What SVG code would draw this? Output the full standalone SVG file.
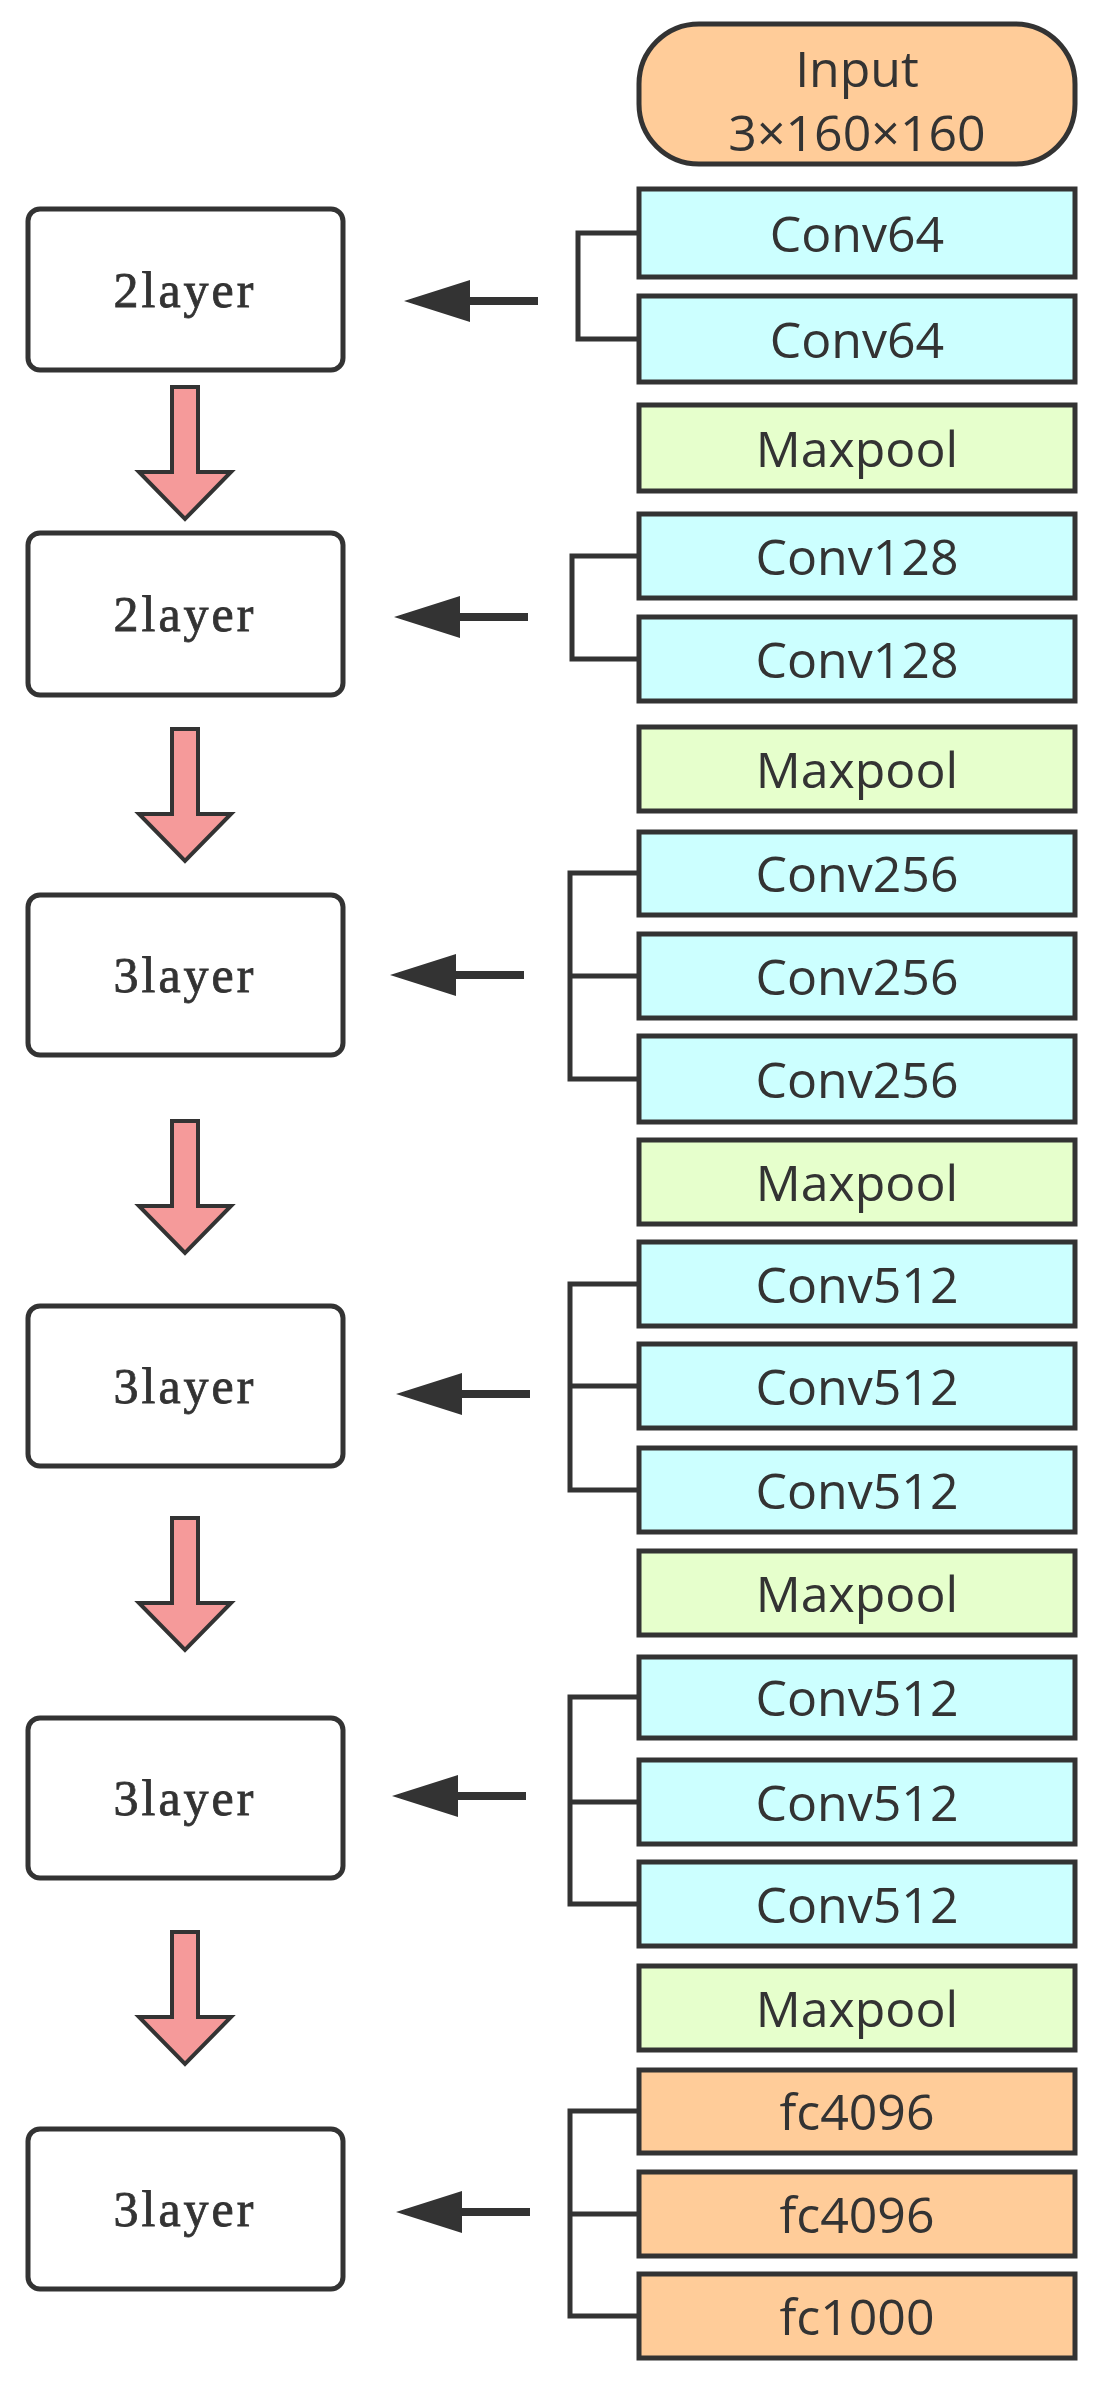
<svg xmlns="http://www.w3.org/2000/svg" width="1108" height="2395" viewBox="0 0 1108 2395">
<style>
.b{stroke:#333;stroke-width:5}
.c{fill:#ccffff}.m{fill:#e6ffcc}.o{fill:#ffcc99}
.t{font-family:"Open Sans","Liberation Sans",sans-serif;font-size:50px;fill:#333;text-anchor:middle;dominant-baseline:central}
.l{fill:#fff;stroke:#333;stroke-width:5}
.lt{font-family:"Liberation Serif",serif;font-size:50px;fill:#333;stroke:#333;stroke-width:0.8;letter-spacing:3px;text-anchor:middle;dominant-baseline:central}
.br{fill:none;stroke:#333;stroke-width:5}
.pa{fill:#f59a9a;stroke:#333;stroke-width:4}
.ba{fill:#333}
</style>
<rect width="1108" height="2395" fill="#fff"/>
<g id="input"><rect x="639" y="24" width="436" height="140" rx="60" class="b o"/><text x="857" y="68" class="t">Input</text><text x="857" y="132" class="t">3×160×160</text></g>
<g id="r0"><rect x="639" y="189" width="436" height="88" class="b c"/><text x="857" y="233" class="t">Conv64</text></g>
<g id="r1"><rect x="639" y="296" width="436" height="86" class="b c"/><text x="857" y="339" class="t">Conv64</text></g>
<g id="r2"><rect x="639" y="405" width="436" height="86" class="b m"/><text x="857" y="448" class="t">Maxpool</text></g>
<g id="r3"><rect x="639" y="514" width="436" height="84" class="b c"/><text x="857" y="556" class="t">Conv128</text></g>
<g id="r4"><rect x="639" y="617" width="436" height="84" class="b c"/><text x="857" y="659" class="t">Conv128</text></g>
<g id="r5"><rect x="639" y="727" width="436" height="84" class="b m"/><text x="857" y="769" class="t">Maxpool</text></g>
<g id="r6"><rect x="639" y="832" width="436" height="83" class="b c"/><text x="857" y="873" class="t">Conv256</text></g>
<g id="r7"><rect x="639" y="934" width="436" height="84" class="b c"/><text x="857" y="976" class="t">Conv256</text></g>
<g id="r8"><rect x="639" y="1036" width="436" height="86" class="b c"/><text x="857" y="1079" class="t">Conv256</text></g>
<g id="r9"><rect x="639" y="1140" width="436" height="84" class="b m"/><text x="857" y="1182" class="t">Maxpool</text></g>
<g id="r10"><rect x="639" y="1242" width="436" height="84" class="b c"/><text x="857" y="1284" class="t">Conv512</text></g>
<g id="r11"><rect x="639" y="1344" width="436" height="84" class="b c"/><text x="857" y="1386" class="t">Conv512</text></g>
<g id="r12"><rect x="639" y="1448" width="436" height="84" class="b c"/><text x="857" y="1490" class="t">Conv512</text></g>
<g id="r13"><rect x="639" y="1551" width="436" height="84" class="b m"/><text x="857" y="1593" class="t">Maxpool</text></g>
<g id="r14"><rect x="639" y="1657" width="436" height="81" class="b c"/><text x="857" y="1697" class="t">Conv512</text></g>
<g id="r15"><rect x="639" y="1760" width="436" height="84" class="b c"/><text x="857" y="1802" class="t">Conv512</text></g>
<g id="r16"><rect x="639" y="1862" width="436" height="84" class="b c"/><text x="857" y="1904" class="t">Conv512</text></g>
<g id="r17"><rect x="639" y="1966" width="436" height="84" class="b m"/><text x="857" y="2008" class="t">Maxpool</text></g>
<g id="r18"><rect x="639" y="2070" width="436" height="83" class="b o"/><text x="857" y="2111" class="t">fc4096</text></g>
<g id="r19"><rect x="639" y="2172" width="436" height="84" class="b o"/><text x="857" y="2214" class="t">fc4096</text></g>
<g id="r20"><rect x="639" y="2274" width="436" height="84" class="b o"/><text x="857" y="2316" class="t">fc1000</text></g>

<g id="L1"><rect x="28" y="209" width="315" height="161" rx="12" class="l"/><text x="185" y="290" class="lt">2layer</text></g>
<g id="L2"><rect x="28" y="533" width="315" height="162" rx="12" class="l"/><text x="185" y="614" class="lt">2layer</text></g>
<g id="L3"><rect x="28" y="895" width="315" height="160" rx="12" class="l"/><text x="185" y="975" class="lt">3layer</text></g>
<g id="L4"><rect x="28" y="1306" width="315" height="160" rx="12" class="l"/><text x="185" y="1386" class="lt">3layer</text></g>
<g id="L5"><rect x="28" y="1718" width="315" height="160" rx="12" class="l"/><text x="185" y="1798" class="lt">3layer</text></g>
<g id="L6"><rect x="28" y="2129" width="315" height="160" rx="12" class="l"/><text x="185" y="2209" class="lt">3layer</text></g>

<g id="connectors">
<path class="br" d="M639 233H578V339H639"/>
<path class="br" d="M639 556H572V659H639"/>
<path class="br" d="M639 873H570V1079H639M570 976H639"/>
<path class="br" d="M639 1284H570V1490H639M570 1386H639"/>
<path class="br" d="M639 1697H570V1904H639M570 1802H639"/>
<path class="br" d="M639 2111H570V2316H639M570 2214H639"/>
<g class="ba">
<path d="M538 297H470V305H538Z M404 301L470 280V322Z"/>
<path d="M528 613H460V621H528Z M394 617L460 596V638Z"/>
<path d="M524 971H456V979H524Z M390 975L456 954V996Z"/>
<path d="M530 1390H462V1398H530Z M396 1394L462 1373V1415Z"/>
<path d="M526 1792H458V1800H526Z M392 1796L458 1775V1817Z"/>
<path d="M530 2208H462V2216H530Z M396 2212L462 2191V2233Z"/>
</g>
<path class="pa" d="M172 387H198V472H231L185 519L139 472H172Z"/>
<path class="pa" d="M172 729H198V814H231L185 861L139 814H172Z"/>
<path class="pa" d="M172 1121H198V1206H231L185 1253L139 1206H172Z"/>
<path class="pa" d="M172 1518H198V1603H231L185 1650L139 1603H172Z"/>
<path class="pa" d="M172 1932H198V2017H231L185 2064L139 2017H172Z"/>
</g>
</svg>
